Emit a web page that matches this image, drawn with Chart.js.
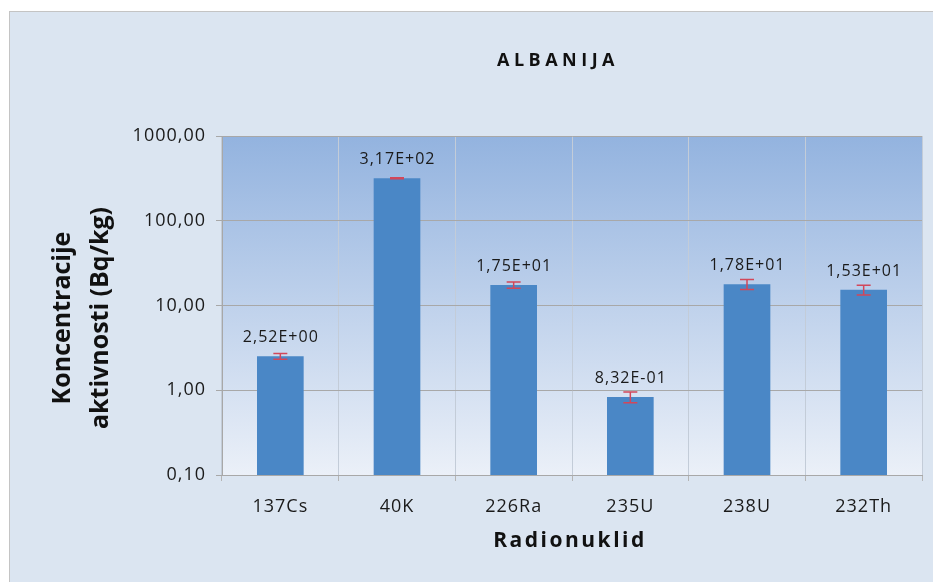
<!DOCTYPE html>
<html>
<head>
<meta charset="utf-8">
<script src="https://cdn.jsdelivr.net/npm/chart.js@4"></script>
<style>
  html, body { margin: 0; padding: 0; background: #ffffff; }
  #wrap { width: 933px; height: 582px; }
</style>
</head>
<body>
<div id="wrap"><canvas id="c" width="933" height="582"></canvas></div>
<script>
// Activity concentrations per radionuclide (Bq/kg) with their uncertainties
const categories = ['137Cs', '40K', '226Ra', '235U', '238U', '232Th'];
const activity = [2.52, 317, 17.5, 0.832, 17.8, 15.3];
const uncertainty = [0.2, 4, 1.5, 0.12, 2.4, 2.0];
const yTickValues = [0.1, 1, 10, 100, 1000];
const chartTitle = 'ALBANIJA';
const yTitleLines = ['Koncentracije', 'aktivnosti (Bq/kg)'];
const xTitle = 'Radionuklid';

const FONT = "'Open Sans', 'Liberation Sans', sans-serif";

// 3,17E+02 style scientific notation with a decimal comma
function sci(v) {
  const [m, e] = v.toExponential(2).split('e');
  const n = parseInt(e, 10);
  return m.replace('.', ',') + 'E' + (n < 0 ? '-' : '+') + String(Math.abs(n)).padStart(2, '0');
}

const framePlugin = {
  id: 'frame',
  beforeDraw(chart) {
    const { ctx, chartArea: a } = chart;
    ctx.save();
    ctx.fillStyle = '#ffffff';
    ctx.fillRect(0, 0, chart.width, chart.height);
    ctx.fillStyle = '#dbe5f1';
    ctx.fillRect(9, 11, chart.width, chart.height);
    ctx.strokeStyle = '#c4c4c4';
    ctx.lineWidth = 1;
    ctx.strokeRect(9.5, 11.5, chart.width + 10, chart.height + 10);
    const g = ctx.createLinearGradient(0, a.top, 0, a.bottom);
    g.addColorStop(0, '#93b3df');
    g.addColorStop(1, '#ebf0f8');
    ctx.fillStyle = g;
    ctx.fillRect(a.left, a.top, a.right - a.left, a.bottom - a.top);
    ctx.restore();
    // slightly open tracking for the axis tick labels
    ctx.letterSpacing = '1px';
  },
  afterDatasetsDraw(chart) {
    const { ctx } = chart;
    const y = chart.scales.y;
    const meta = chart.getDatasetMeta(0);
    ctx.save();
    meta.data.forEach((bar, i) => {
      const v = activity[i], u = uncertainty[i];
      const yHi = y.getPixelForValue(v + u);
      const yLo = y.getPixelForValue(v - u);
      ctx.strokeStyle = '#d2475a';
      ctx.lineWidth = 1.5;
      ctx.beginPath();
      ctx.moveTo(bar.x, yHi); ctx.lineTo(bar.x, yLo);
      ctx.moveTo(bar.x - 7, yHi); ctx.lineTo(bar.x + 7, yHi);
      ctx.moveTo(bar.x - 7, yLo); ctx.lineTo(bar.x + 7, yLo);
      ctx.stroke();
      ctx.fillStyle = '#1a1a1a';
      ctx.font = '16px ' + FONT;
      ctx.letterSpacing = '1px';
      ctx.textAlign = 'center';
      ctx.textBaseline = 'alphabetic';
      ctx.fillText(sci(v), bar.x + 0.5, bar.y - 14);
    });
    ctx.restore();
  },
  afterDraw(chart) {
    const { ctx } = chart;
    ctx.save();
    ctx.fillStyle = '#111111';
    ctx.textAlign = 'center';
    ctx.textBaseline = 'middle';
    // chart title
    ctx.font = 'bold 18px ' + FONT;
    ctx.letterSpacing = '4.5px';
    ctx.fillText(chartTitle, 558, 61);
    // x axis title
    ctx.font = 'bold 21px ' + FONT;
    ctx.letterSpacing = '2.5px';
    ctx.fillText(xTitle, 570, 541);
    // y axis title
    ctx.letterSpacing = '0px';
    ctx.font = 'bold 25px ' + FONT;
    ctx.translate(0, 318);
    ctx.rotate(-Math.PI / 2);
    ctx.fillText(yTitleLines[0], 0, 63);
    ctx.fillText(yTitleLines[1], 0, 101);
    ctx.restore();
  }
};

new Chart(document.getElementById('c'), {
  type: 'bar',
  data: {
    labels: categories,
    datasets: [{
      data: activity,
      backgroundColor: '#4a87c6',
      borderWidth: 0,
      barPercentage: 0.4,
      categoryPercentage: 1.0
    }]
  },
  options: {
    responsive: false,
    animation: false,
    devicePixelRatio: 1,
    layout: { padding: { left: 0, right: 11, top: 136, bottom: 0 } },
    plugins: {
      legend: { display: false },
      title: { display: false },
      tooltip: { enabled: false }
    },
    scales: {
      x: {
        type: 'category',
        offset: true,
        grid: { display: true, offset: true, color: '#c3ccd8', tickColor: '#b5b5b5', tickLength: 6 },
        border: { display: true, color: '#a8a8a8' },
        ticks: { color: '#1a1a1a', font: { family: FONT, size: 18 }, padding: 15, maxRotation: 0 },
        afterFit(scale) { scale.height = 107; }
      },
      y: {
        type: 'logarithmic',
        min: 0.1,
        max: 1000,
        afterBuildTicks(scale) { scale.ticks = yTickValues.map(v => ({ value: v, major: true })); },
        grid: { color: '#a8a8a8', tickLength: 6 },
        border: { display: true, color: '#a8a8a8' },
        ticks: {
          color: '#1a1a1a',
          font: { family: FONT, size: 18 },
          padding: 10,
          autoSkip: false,
          callback: (v) => Number(v).toFixed(2).replace('.', ',')
        },
        afterFit(scale) { scale.width = 222; }
      }
    }
  },
  plugins: [framePlugin]
});
</script>
</body>
</html>
